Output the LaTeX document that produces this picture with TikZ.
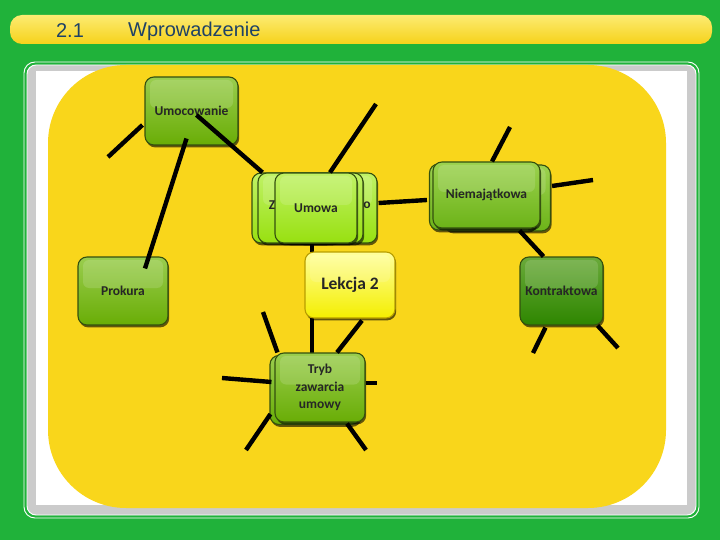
\documentclass[tikz,border=0pt]{standalone}
\usepackage{fontspec}
\setmainfont{Carlito}
\newfontfamily\headfont{Liberation Sans}
\usepackage{tikz}
\usetikzlibrary{positioning,calc,shadows}

\definecolor{bggreen}{HTML}{20B23A}
\definecolor{bartop}{HTML}{FCEB72}
\definecolor{barbot}{HTML}{F6D21A}
\definecolor{headblue}{HTML}{1E4266}
\definecolor{framegrey}{HTML}{CBCBCB}
\definecolor{sunyellow}{HTML}{F9D61B}
\definecolor{boxedge}{HTML}{34500E}
\definecolor{leaftop}{HTML}{9ACD4E}
\definecolor{leafbot}{HTML}{69AD06}
\definecolor{midtop}{HTML}{9CD24F}
\definecolor{midbot}{HTML}{6CB318}
\definecolor{brighttop}{HTML}{C0F266}
\definecolor{brightbot}{HTML}{98E010}
\definecolor{darktop}{HTML}{6AAA3A}
\definecolor{darkbot}{HTML}{2E8600}
\definecolor{hubtop}{HTML}{FFFF9C}
\definecolor{hubbot}{HTML}{F4EE00}
\definecolor{hubedge}{HTML}{B89E00}

\begin{document}
\begin{tikzpicture}[
  x=1pt, y=-1pt,
  box/.style={draw=boxedge, line width=1.1pt, rounded corners=9pt,
              minimum width=90pt, minimum height=68pt, inner sep=2pt,
              drop shadow={shadow xshift=1.2pt, shadow yshift=-2.4pt,
                           opacity=0.6, fill=black},
              font=\fontsize{13.5}{17.5}\selectfont\bfseries, text=black!85, align=center,
              path picture={\fill[white, opacity=0.14, rounded corners=6pt]
                ($(path picture bounding box.north west)+(5,3)$) rectangle
                ($(path picture bounding box.east)+(-5,-3)$);}},
  leaf/.style={box, top color=leaftop, bottom color=leafbot},
  midleaf/.style={box, top color=midtop, bottom color=midbot},
  bright/.style={box, top color=brighttop, bottom color=brightbot},
  dark/.style={box, top color=darktop, bottom color=darkbot},
  hub/.style={box, draw=hubedge, top color=hubtop, bottom color=hubbot,
              font=\fontsize{17.5}{20}\selectfont\bfseries},
  frag/.style={font=\fontsize{13.5}{15}\selectfont\bfseries, text=black!85, inner sep=0pt},
  link/.style={line width=4.4pt, black},
  every node/.style={inner sep=2pt}]

\useasboundingbox (0,0) rectangle (720,540);

% ================= background and frame ===================================
\fill[bggreen] (0,0) rectangle (720,540);
\shade[top color=bartop, bottom color=barbot, rounded corners=12pt]
  (10,15) rectangle (712,44);
\node[headblue, font=\headfont\fontsize{20}{22}\selectfont] (secnum) at (70,31) {2.1};
\node[headblue, font=\headfont\fontsize{20}{22}\selectfont, anchor=west] (sectitle)
  at (126,31) {Wprowadzenie};

\draw[white, line width=0.9pt, rounded corners=11pt] (24,62) rectangle (699,518);
\draw[white, line width=0.9pt, fill=framegrey, rounded corners=9pt] (27,65) rectangle (696,515);
\fill[white] (36,71) rectangle (687,505);
\fill[sunyellow, rounded corners=78pt] (48,65) rectangle (666,508);

% free ends of the spokes
\coordinate (umocL) at (108,157);
\coordinate (umowaUp) at (376,104);
\coordinate (niemUp) at (510,127);
\coordinate (niemR) at (593,180);
\coordinate (kontrL) at (533,353);
\coordinate (kontrR) at (618,348);
\coordinate (trybUp) at (263,312);
\coordinate (trybL) at (222,378);
\coordinate (trybR) at (377,383);
\coordinate (trybDL) at (246,450);
\coordinate (trybDR) at (366,450);

% ================= stacks of cards ========================================
\node[bright, minimum width=82pt, minimum height=70pt] (umowaR) at (336,208) {};
\node[frag] (umowaO) at (367,205) {o};
\node[bright, minimum width=82pt, minimum height=70pt] (umowaR2) at (322,208) {};
\node[bright, minimum width=82pt, minimum height=70pt] (umowaL) at (293,208) {};
\node[bright, minimum width=82pt, minimum height=70pt] (umowaL2) at (299,208) {};
\node[frag] (umowaZ) at (272,205) {Z};

\node[midleaf, minimum width=107pt, minimum height=66pt] (niemB) at (497,198) {};
\node[midleaf, minimum width=107pt, minimum height=66pt] (niemB2) at (483,197) {};

\node[leaf, minimum height=69pt] (trybB) at (315,390) {};

% spoke running behind the hub
\draw[link] ($(umowaL.south)+(19,0)$) -- ($(trybB.north)+(-3,0)$);

% ================= cards ==================================================
\node[leaf, minimum width=93pt] (umoc) at (191.5,111) {Umocowanie};
\node[bright, minimum width=82pt, minimum height=70pt] (umowa) at (316,208) {Umowa};
\node[midleaf, minimum width=107pt, minimum height=66pt] (niem) at (486.5,195) {Niemajątkowa};
\node[hub, minimum height=66pt] (lekcja) at (350,285) {Lekcja 2};
\node[leaf] (prokura) at (123,291) {Prokura};
\node[dark, minimum width=83pt] (kontr) at (561.5,291) {Kontraktowa};
\node[leaf, minimum height=69pt] (tryb) at (320,387.5) {Tryb\\zawarcia\\umowy};

% ================= spokes =================================================
\draw[link] ($(umoc.west)+(-2,14)$) -- (umocL);
\draw[link] ($(umoc.south)+(-5,-7)$) -- ($(prokura.north)+(22,12)$);
\draw[link] ($(umoc.center)+(5,4)$) -- ($(umowaL.north west)+(11,0)$);
\draw[link] ($(umowa.north)+(14,0)$) -- (umowaUp);
\draw[link] ($(umowaR.east)+(1,-5)$) -- ($(niemB2.west)+(-2,3)$);
\draw[link] ($(lekcja.south)+(12,2)$) -- ($(tryb.north)+(17,0)$);

\draw[link] ($(niem.north)+(5.5,0)$) -- (niemUp);
\draw[link] ($(niemB.east)+(1,-12)$) -- (niemR);
\draw[link] ($(niem.south)+(33,2)$) -- ($(kontr.north)+(-18,0)$);
\draw[link] ($(kontr.south)+(-16,2)$) -- (kontrL);
\draw[link] ($(kontr.south east)+(-6,0)$) -- (kontrR);

\draw[link] ($(tryb.north west)+(3,0)$) -- (trybUp);
\draw[link] ($(trybB.west)+(2,-8)$) -- (trybL);
\draw[link] ($(tryb.east)+(0,-4.5)$) -- (trybR);
\draw[link] ($(trybB.south west)+(1,-11)$) -- (trybDL);
\draw[link] ($(tryb.south)+(27,1)$) -- (trybDR);

\end{tikzpicture}
\end{document}
